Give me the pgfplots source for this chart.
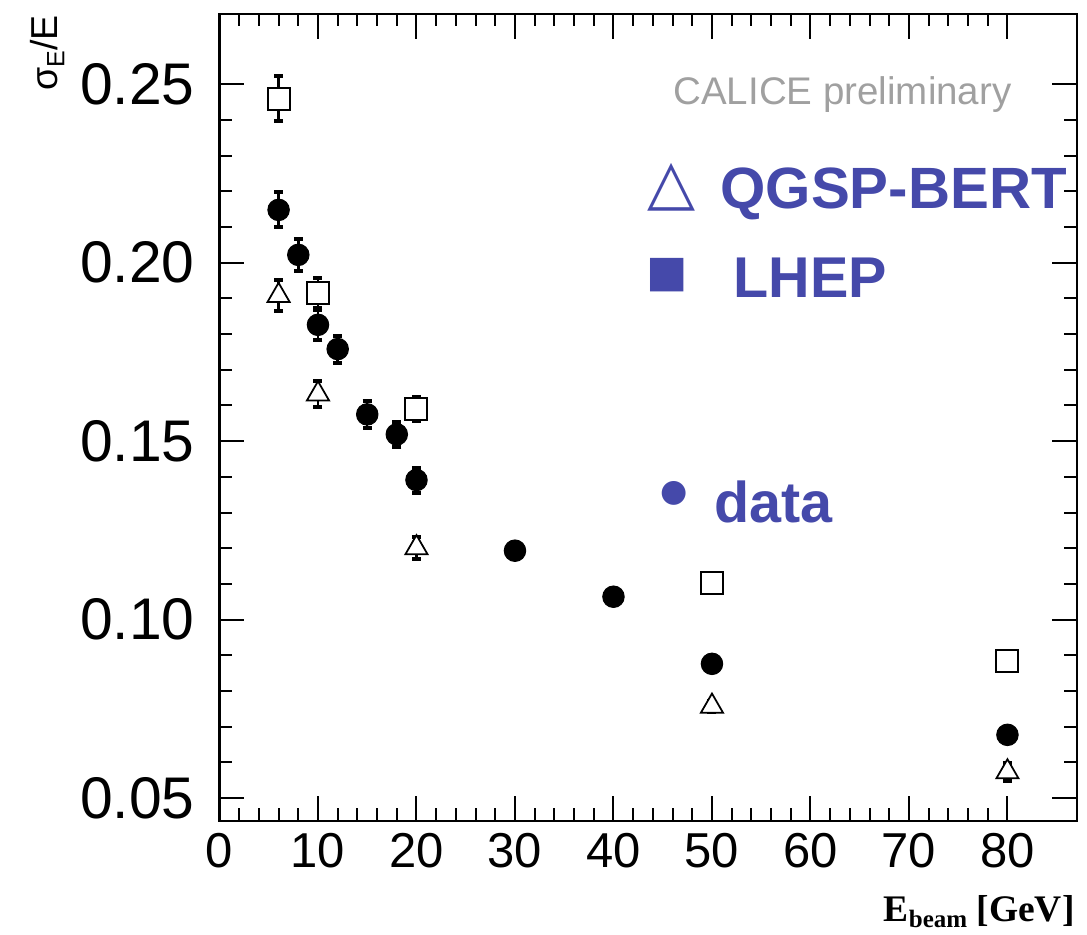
\documentclass[border=0pt]{standalone}
\usepackage{fontspec}
\setmainfont{Liberation Sans}
\newfontfamily\timesfont{Liberation Serif}
\newfontfamily\shapefont{DejaVu Sans}
\usepackage{pgfplots}
\pgfplotsset{compat=1.18}
\usepackage{pgfplotstable}

\definecolor{legblue}{RGB}{69,73,170}
\definecolor{prelgray}{RGB}{160,160,160}

% E [GeV], sigma_E/E, error
\pgfplotstableread{
x y e
6 0.2148 0.0049
8 0.2022 0.0045
10 0.1826 0.0042
12 0.1758 0.0038
15 0.1575 0.0037
18 0.1519 0.0036
20 0.1391 0.0035
30 0.1193 0.0018
40 0.1064 0.0018
50 0.0876 0.0016
80 0.0677 0.0016
}\datatab

\pgfplotstableread{
x y e
6 0.2460 0.0063
10 0.1915 0.0042
20 0.1590 0.0034
50 0.1103 0.0015
80 0.0885 0.0015
}\lheptab

\pgfplotstableread{
x y e
6 0.1908 0.0044
10 0.1632 0.0036
20 0.1201 0.0030
50 0.0757 0.0015
80 0.0573 0.0025
}\qgsptab

\begin{document}
\begin{tikzpicture}
\begin{axis}[
    scale only axis,
    width=343pt, height=322.8pt,
    xmin=0, xmax=87.06,
    ymin=0.04356, ymax=0.2697,
    xtick={0,10,...,80},
    ytick={0.05,0.1,0.15,0.2,0.25},
    minor x tick num=4,
    minor y tick num=4,
    scaled y ticks=false,
    major tick length=10pt,
    minor tick length=5pt,
    axis line style={line width=1.1pt},
    every tick/.style={black, line width=0.8pt},
    /pgf/number format/assume math mode=true,
    yticklabel style={/pgf/number format/fixed, /pgf/number format/fixed zerofill, /pgf/number format/precision=2},
    y tick label style={font=\fontsize{23.5}{23.5}\selectfont, xshift=-6.5pt},
    x tick label style={font=\fontsize{19.6}{19.6}\selectfont, yshift=-1.5pt},
]

\addplot[only marks, mark=square*, mark size=4.4pt, black,
    mark options={fill=white, line width=0.8pt},
    error bars/.cd, y dir=both, y explicit,
    error bar style={line width=1pt},
    error mark options={rotate=90, mark size=1.8pt, line width=1.6pt}]
    table[x=x, y=y, y error=e] {\lheptab};

\addplot[only marks, mark=triangle*, mark size=5.1pt, black,
    mark options={fill=white, line width=0.7pt},
    error bars/.cd, y dir=both, y explicit,
    error bar style={line width=1pt},
    error mark options={rotate=90, mark size=1.8pt, line width=1.6pt}]
    table[x=x, y=y, y error=e] {\qgsptab};

\addplot[only marks, mark=*, mark size=4.3pt, black,
    error bars/.cd, y dir=both, y explicit,
    error bar style={line width=1pt},
    error mark options={rotate=90, mark size=1.8pt, line width=1.6pt}]
    table[x=x, y=y, y error=e] {\datatab};

\end{axis}

% axis titles
\node[rotate=90, anchor=base east, inner sep=0pt] at (-64.8pt,322.4pt)
    {\fontsize{15}{15}\selectfont σ\raisebox{-0.35ex}{\fontsize{10}{10}\selectfont E}/E};
\node[anchor=base east, inner sep=0pt] at (342.2pt,-40.4pt)
    {\timesfont\bfseries\fontsize{15}{15}\selectfont E\raisebox{-0.3ex}{\fontsize{10}{10}\selectfont beam} [GeV]};

% annotations
\node[anchor=base west, inner sep=0pt, text=prelgray] at (181.4pt,286.4pt)
    {\fontsize{15.4}{15.4}\selectfont CALICE preliminary};
\node[anchor=base west, inner sep=0pt, text=legblue] at (200.2pt,244.8pt)
    {\bfseries\fontsize{23.3}{23.3}\selectfont QGSP-BERT};
\node[anchor=base west, inner sep=0pt, text=legblue] at (205.4pt,209.2pt)
    {\bfseries\fontsize{23}{23}\selectfont LHEP};
\node[anchor=base west, inner sep=0pt, text=legblue] at (197.8pt,119.2pt)
    {\bfseries\fontsize{23}{23}\selectfont data};
\node[inner sep=0pt, text=legblue] at (181pt,253.6pt)
    {\shapefont\fontsize{25}{25}\selectfont △};
\node[inner sep=0pt, text=legblue] at (179.2pt,218.2pt)
    {\shapefont\fontsize{17.5}{17.5}\selectfont ■};
\node[inner sep=0pt, text=legblue] at (181.8pt,131.2pt)
    {\shapefont\fontsize{12.5}{12.5}\selectfont ●};

\pgfresetboundingbox
\path[use as bounding box] (-87.8pt,-45.6pt) rectangle (347pt,328.4pt);
\end{tikzpicture}
\end{document}
